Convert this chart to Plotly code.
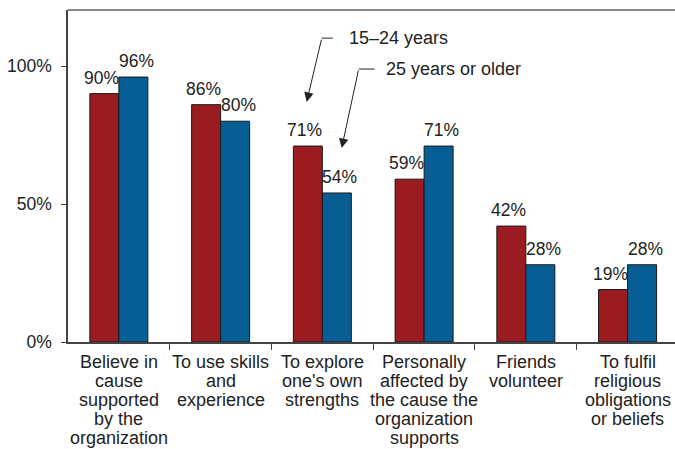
import plotly.graph_objects as go

categories = [
    "Believe in<br>cause<br>supported<br>by the<br>organization",
    "To use skills<br>and<br>experience",
    "To explore<br>one's own<br>strengths",
    "Personally<br>affected by<br>the cause the<br>organization<br>supports",
    "Friends<br>volunteer",
    "To fulfil<br>religious<br>obligations<br>or beliefs",
]
young = [90, 86, 71, 59, 42, 19]
older = [96, 80, 54, 71, 28, 28]
series_names = ["15–24 years", "25 years or older"]
y_ticks = [0, 50, 100]

RED = "#9A1B20"
BLUE = "#075E95"
FONT = "Liberation Sans, Arial, sans-serif"
TXT = "#222222"

xs = list(range(len(categories)))
BARGAP = 0.43
half = (1 - BARGAP) / 4  # offset of each bar centre from category centre

fig = go.Figure()
for name, vals, col in [(series_names[0], young, RED), (series_names[1], older, BLUE)]:
    fig.add_trace(go.Bar(
        x=xs, y=vals, name=name,
        marker=dict(color=col, line=dict(color="#1a1a1a", width=1)),
    ))

annotations = []
# value labels
for sign, vals, xsh in [(-1, young, -3), (1, older, 3)]:
    for i, v in enumerate(vals):
        annotations.append(dict(
            x=i + sign * half, y=v, xref="x", yref="y", text=f"{v}%", showarrow=False,
            xanchor="center", yanchor="bottom", yshift=4, xshift=xsh,
            font=dict(family=FONT, size=17.5, color=TXT),
        ))

# category labels (one annotation per line for tight line spacing)
for i, lab in enumerate(categories):
    for j, line in enumerate(lab.split("<br>")):
        annotations.append(dict(
            x=i, y=0, xref="x", yref="y", text=line, showarrow=False,
            xanchor="center", yanchor="middle", yshift=-(20 + 19 * j),
            font=dict(family=FONT, size=18, color=TXT),
        ))

# legend call-outs
annotations += [
    dict(x=1.846, y=87.0, ax=1.994, ay=110.1, xref="x", yref="y", axref="x", ayref="y",
         text="", showarrow=True, arrowhead=2, arrowsize=1.9, arrowwidth=1, arrowcolor=TXT),
    dict(x=2.190, y=70.3, ax=2.357, ay=98.9, xref="x", yref="y", axref="x", ayref="y",
         text="", showarrow=True, arrowhead=2, arrowsize=1.9, arrowwidth=1, arrowcolor=TXT),
    dict(x=2.240, y=110.1, xref="x", yref="y", text=series_names[0], showarrow=False,
         xanchor="left", yanchor="middle", font=dict(family=FONT, size=18, color=TXT)),
    dict(x=2.603, y=98.9, xref="x", yref="y", text=series_names[1], showarrow=False,
         xanchor="left", yanchor="middle", font=dict(family=FONT, size=18, color=TXT)),
]

shapes = [
    dict(type="line", xref="x", yref="y", x0=1.994, x1=2.102, y0=110.1, y1=110.1,
         line=dict(color=TXT, width=1)),
    dict(type="line", xref="x", yref="y", x0=2.357, x1=2.514, y0=98.9, y1=98.9,
         line=dict(color=TXT, width=1)),
    dict(type="line", xref="paper", yref="paper", x0=0, x1=1, y0=1, y1=1,
         line=dict(color="#888888", width=2)),
]

fig.update_layout(
    width=675, height=449,
    margin=dict(l=68, r=0, t=10, b=107, autoexpand=False),
    paper_bgcolor="white", plot_bgcolor="white",
    barmode="group", bargap=BARGAP, bargroupgap=0,
    showlegend=False,
    font=dict(family=FONT, size=17, color=TXT),
    annotations=annotations, shapes=shapes,
    xaxis=dict(
        type="linear", range=[-0.5, 5.466], tickvals=[0.5, 1.5, 2.5, 3.5, 4.5],
        showticklabels=False, ticks="outside", ticklen=6, tickcolor="#444",
        showline=True, linecolor="#444", linewidth=1.5, showgrid=False, zeroline=False,
        automargin=False,
    ),
    yaxis=dict(
        range=[0, 120.3], tickvals=y_ticks, ticktext=[f"{v}%" for v in y_ticks],
        ticks="outside", ticklen=5, tickcolor="#444", ticklabelstandoff=6,
        showline=True, linecolor="#444", linewidth=1.5, showgrid=False, zeroline=False,
        tickfont=dict(family=FONT, size=17.5, color=TXT), automargin=False,
    ),
)

fig.write_html(
    "out.html",
    config={"displayModeBar": False},
    post_script="document.body.style.margin='0';document.body.style.overflow='hidden';",
)
